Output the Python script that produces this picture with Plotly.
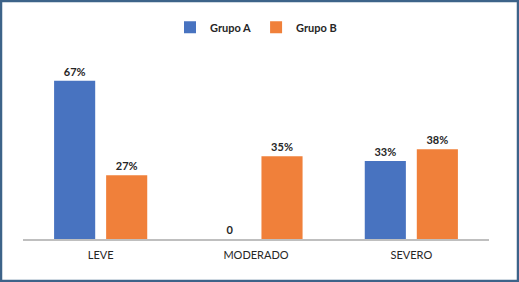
import plotly.graph_objects as go

categories = ["LEVE", "MODERADO", "SEVERO"]
grupo_a = [0.67, 0.0, 0.33]
grupo_b = [0.27, 0.35, 0.38]
series_names = ["Grupo A", "Grupo B"]


def labels(vals):
    return [f"{round(v * 100)}%" if v else "0" for v in vals]


label_font = dict(size=11, color="#262626", family="Lato", weight="bold")

fig = go.Figure()
fig.add_trace(go.Bar(
    name=series_names[0], x=categories, y=grupo_a,
    marker=dict(color="#4873c0", line=dict(width=0)),
    text=labels(grupo_a), textposition="outside", cliponaxis=False,
    textfont=label_font,
))
fig.add_trace(go.Bar(
    name=series_names[1], x=categories, y=grupo_b,
    marker=dict(color="#f0803a", line=dict(width=0)),
    text=labels(grupo_b), textposition="outside", cliponaxis=False,
    textfont=label_font,
))

fig.update_layout(
    width=519, height=282,
    margin=dict(l=23, r=30, t=50, b=43),
    paper_bgcolor="white", plot_bgcolor="white",
    barmode="group", bargap=0.33, bargroupgap=0.21,
    font=dict(family="Lato", size=11, color="#262626"),
    showlegend=True,
    legend=dict(orientation="h", x=0.5, xanchor="center", y=1.12, yanchor="middle",
                xref="paper", yref="paper",
                font=dict(size=11, color="#262626", weight="bold"),
                itemwidth=30, tracegroupgap=0, traceorder="normal"),
    xaxis=dict(showline=True, linecolor="#bfbfbf", linewidth=1.5, ticks="",
               showgrid=False, tickfont=dict(size=11, color="#262626"),
               ticklabelstandoff=5, range=[-0.5, 2.5]),
    yaxis=dict(visible=False, range=[0, 0.8], showgrid=False, zeroline=False),
    shapes=[dict(type="rect", xref="paper", yref="paper", x0=-22/466, x1=1 + 29/466,
                 y0=-42/189, y1=1 + 49/189,
                 line=dict(color="#3d6389", width=2.5), fillcolor="rgba(0,0,0,0)", layer="above")],
)

fig.write_html("out.html", config={"displayModeBar": False},
               post_script="document.body.style.margin='0';document.body.style.overflow='hidden';")
